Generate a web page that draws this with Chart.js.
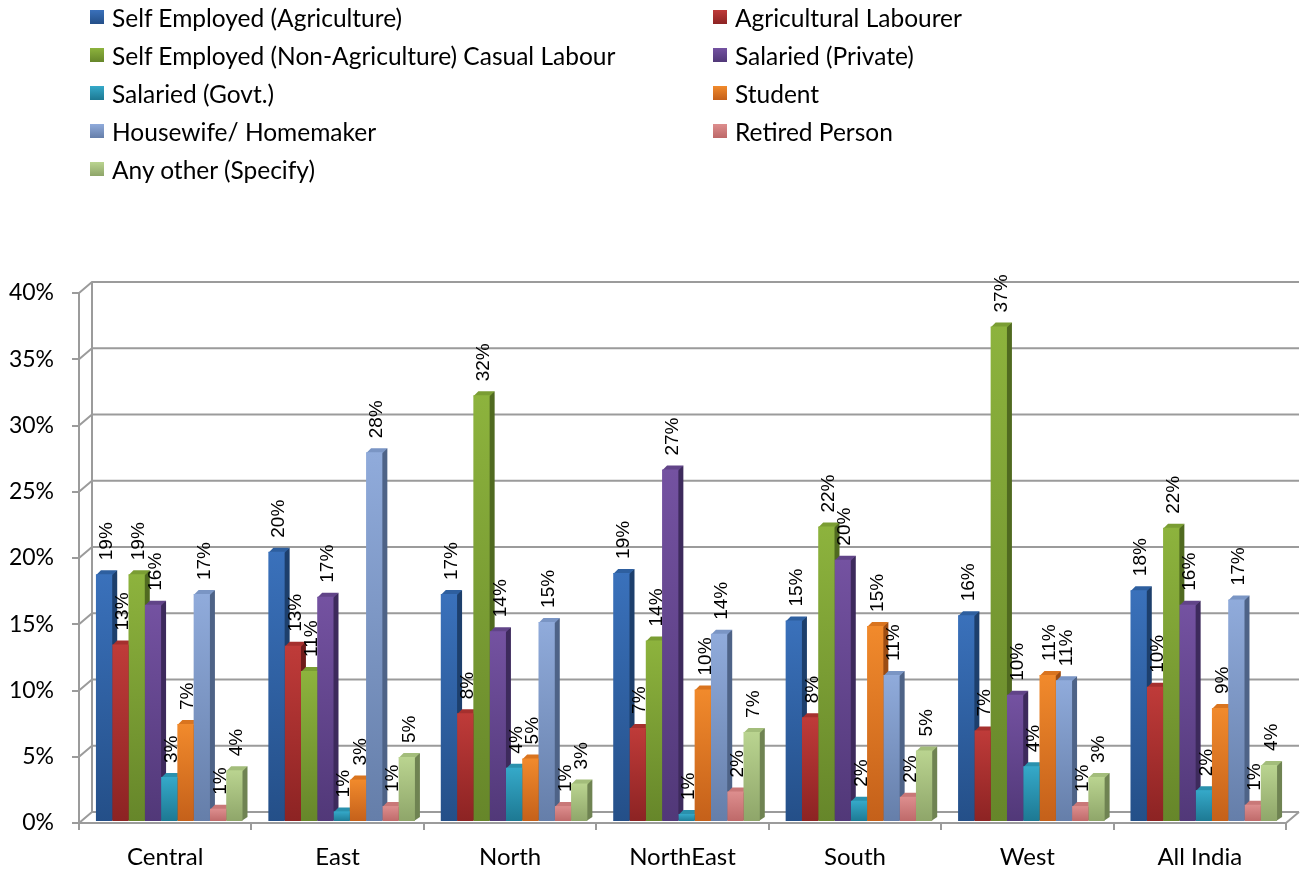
<!DOCTYPE html>
<html>
<head>
<meta charset="utf-8">
<script src="https://cdn.jsdelivr.net/npm/chart.js@4/dist/chart.umd.min.js"></script>
<style>
  body { margin: 0; background: #fff; }
  #wrap { position: relative; width: 1306px; height: 873px; }
  #legenda { position: absolute; left: 90px; top: -2px; display: grid; grid-template-columns: 623px auto; font-family: Lato, sans-serif; font-size: 24.5px; color: #000; }
  #legenda div { height: 38px; display: flex; align-items: center; white-space: nowrap; }
  #legenda span { display: inline-block; width: 14px; height: 14px; margin-right: 8px; }
</style>
</head>
<body>
<div id="wrap">
  <canvas id="grafico" width="1306" height="873"></canvas>
  <div id="legenda"></div>
</div>
<script>
var categorias = ['Central', 'East', 'North', 'NorthEast', 'South', 'West', 'All India'];

var nomes = [
    'Self Employed (Agriculture)',
    'Agricultural Labourer',
    'Self Employed (Non-Agriculture) Casual Labour',
    'Salaried (Private)',
    'Salaried (Govt.)',
    'Student',
    'Housewife/ Homemaker',
    'Retired Person',
    'Any other (Specify)'
];

// valores em %
var selfAgri    = [18.7, 20.4, 17.2, 18.8, 15.2, 15.6, 17.5];
var agriLab     = [13.4, 13.3, 8.2, 7.1, 7.9, 6.9, 10.2];
var selfNonAgri = [18.7, 11.4, 32.2, 13.7, 22.3, 37.4, 22.2];
var salPriv     = [16.4, 17.0, 14.4, 26.6, 19.8, 9.6, 16.4];
var salGovt     = [3.4, 0.8, 4.1, 0.6, 1.6, 4.2, 2.4];
var student     = [7.4, 3.2, 4.8, 10.0, 14.8, 11.1, 8.6];
var housewife   = [17.2, 27.9, 15.1, 14.2, 11.1, 10.7, 16.8];
var retired     = [1.0, 1.2, 1.2, 2.3, 1.9, 1.2, 1.3];
var other       = [3.9, 4.9, 2.9, 6.8, 5.4, 3.4, 4.3];

var series = [selfAgri, agriLab, selfNonAgri, salPriv, salGovt, student, housewife, retired, other];

var yTicks = [0, 5, 10, 15, 20, 25, 30, 35, 40];

var corTopo  = ['#3a71bb', '#bf3b39', '#8db33d', '#7452a1', '#35a9c9', '#f18a2c', '#90abdb', '#dd8e8e', '#bad490'];
var corBase  = ['#244f88', '#8c2323', '#66862a', '#513878', '#1d7892', '#c4601a', '#657ea9', '#bd6868', '#8ea569'];
var corLado  = ['#1d3f6c', '#6e1a1a', '#506a20', '#3d2a5c', '#165d71', '#9c4c12', '#4e6387', '#9a5050', '#6f8352'];
var corTampa = ['#2e5f9f', '#a5302e', '#7a9d33', '#614488', '#2a91ad', '#d9741f', '#7a95c4', '#c97878', '#a3bd7b'];

var DX = 13, DY = 11;   // profundidade da parede do fundo
var BD = 5, BDY = 4;    // profundidade das barras
var DESLOC = 4;

var legenda = document.getElementById('legenda');
for (var i = 0; i < nomes.length; i++) {
    var item = document.createElement('div');
    item.innerHTML = '<span style="background:linear-gradient(' + corTopo[i] + ',' + corBase[i] + ')"></span>' + nomes[i];
    legenda.appendChild(item);
}

function gradiente(i) {
    return function (c) {
        var ch = c.chart;
        if (!ch.chartArea || c.raw == null) return corTopo[i];
        var y = ch.scales.y.getPixelForValue(c.raw);
        var b = ch.scales.y.getPixelForValue(0);
        var g = ch.ctx.createLinearGradient(0, y, 0, b);
        g.addColorStop(0, corTopo[i]);
        g.addColorStop(1, corBase[i]);
        return g;
    };
}

var datasets = series.map(function (valores, i) {
    return {
        label: nomes[i],
        data: valores,
        backgroundColor: gradiente(i),
        borderWidth: 0
    };
});

var efeito3d = {
    id: 'efeito3d',
    beforeDatasetsDraw: function (chart) {
        var ctx = chart.ctx;
        var a = chart.chartArea;
        var ys = chart.scales.y;
        // parede do fundo
        ctx.save();
        ctx.strokeStyle = '#9b9b9b';
        ctx.lineWidth = 2;
        ctx.beginPath();
        yTicks.forEach(function (v) {
            var y = ys.getPixelForValue(v);
            ctx.moveTo(a.left, y);
            ctx.lineTo(a.left + DX, y - DY);
            ctx.lineTo(a.right + DX, y - DY);
        });
        ctx.moveTo(a.left + DX, a.top - DY);
        ctx.lineTo(a.left + DX, a.bottom - DY);
        ctx.moveTo(a.right, a.bottom);
        ctx.lineTo(a.right + DX, a.bottom - DY);
        ctx.stroke();
        ctx.restore();

        ctx.save();
        ctx.translate(DESLOC, -1);
        // lados e tampas antes das frentes
        chart.data.datasets.forEach(function (ds, i) {
            chart.getDatasetMeta(i).data.forEach(function (bar) {
                var p = bar.getProps(['x', 'y', 'base', 'width'], true);
                var l = p.x - p.width / 2, r = p.x + p.width / 2;
                ctx.fillStyle = corLado[i];
                ctx.beginPath();
                ctx.moveTo(r - 1, p.y);
                ctx.lineTo(r + BD, p.y - BDY);
                ctx.lineTo(r + BD, p.base - BDY);
                ctx.lineTo(r - 1, p.base);
                ctx.closePath();
                ctx.fill();
                ctx.fillStyle = corTampa[i];
                ctx.beginPath();
                ctx.moveTo(l, p.y + 1);
                ctx.lineTo(l + BD, p.y - BDY);
                ctx.lineTo(r + BD, p.y - BDY);
                ctx.lineTo(r, p.y + 1);
                ctx.closePath();
                ctx.fill();
            });
        });
    },
    afterDatasetsDraw: function (chart) {
        var ctx = chart.ctx;
        ctx.fillStyle = '#000';
        ctx.font = '19px "Liberation Sans", Arial, sans-serif';
        ctx.textAlign = 'left';
        ctx.textBaseline = 'middle';
        chart.data.datasets.forEach(function (ds, i) {
            var meta = chart.getDatasetMeta(i);
            meta.data.forEach(function (bar, j) {
                var p = bar.getProps(['x', 'y'], true);
                ctx.save();
                ctx.translate(p.x + BD / 2, p.y - 14);
                ctx.rotate(-Math.PI / 2);
                ctx.fillText(Math.round(ds.data[j]) + '%', 0, 0);
                ctx.restore();
            });
        });
        ctx.restore();
    }
};

new Chart(document.getElementById('grafico'), {
    type: 'bar',
    data: {
        labels: categorias,
        datasets: datasets
    },
    options: {
        responsive: false,
        animation: false,
        layout: { padding: { top: 293, right: 20, left: 0, bottom: 0 } },
        datasets: {
            bar: { categoryPercentage: 0.85, barPercentage: 1.0 }
        },
        plugins: {
            legend: { display: false },
            tooltip: { enabled: false }
        },
        scales: {
            x: {
                grid: { offset: true, drawOnChartArea: false, tickLength: 7, color: '#9b9b9b', lineWidth: 2 },
                border: { color: '#9b9b9b', width: 2 },
                ticks: { color: '#000', font: { family: 'Lato', size: 24 }, padding: 13 },
                afterFit: function (s) { s.height = 50; }
            },
            y: {
                min: 0,
                max: 40,
                grid: { drawOnChartArea: false, tickLength: 7, color: '#9b9b9b', lineWidth: 2 },
                border: { color: '#9b9b9b', width: 2 },
                ticks: {
                    stepSize: 5,
                    color: '#000',
                    font: { family: 'Lato', size: 23 },
                    padding: 18,
                    callback: function (v) { return v + '%'; }
                },
                afterFit: function (s) { s.width = 79; }
            }
        }
    },
    plugins: [efeito3d]
});
</script>
</body>
</html>
